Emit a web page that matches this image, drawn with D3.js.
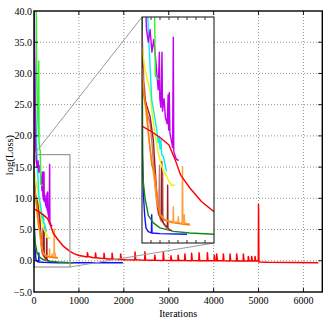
<!DOCTYPE html>
<html>
<head>
<meta charset="utf-8">
<script src="https://cdn.jsdelivr.net/npm/d3@7"></script>
<style>
  body { margin: 0; background: #fff; }
  text { font-family: "Liberation Serif", "Times New Roman", serif; fill: #000; }
</style>
</head>
<body>
<div id="chart"></div>
<script>
// ---- data: [iteration, log(loss)] ----
const xTicks = [0, 1000, 2000, 3000, 4000, 5000, 6000];
const yTicks = [-5, 0, 5, 10, 15, 20, 25, 30, 35, 40];
const insetTicks = [100, 200, 300, 400, 500, 600, 700];

const red = [[0,8.3],[100,7.9],[200,7.4],[300,6.8],[370,5.6],[430,4.4],[530,3.4],[660,2.3],[800,1.5],[900,1.1],[1000,0.85],[1100,0.72],
  [1185,0.62],[1190,1.3],[1205,0.7],[1300,0.52],[1365,0.47],[1370,1.25],[1385,0.5],[1480,0.4],
  [1555,0.36],[1560,1.2],[1575,0.38],[1660,0.3],[1735,0.27],[1740,1.2],[1755,0.3],[1850,0.22],
  [1925,0.2],[1930,1.1],[1945,0.22],[2050,0.16],[2245,0.13],[2250,1.4],[2265,0.15],[2380,0.11],
  [2465,0.1],[2470,1.45],[2485,0.12],[2600,0.08],[2685,0.08],[2690,0.9],[2705,0.09],
  [2875,0.06],[2880,1.45],[2895,0.08],[3045,0.05],[3050,0.8],[3065,0.06],
  [3205,0.04],[3210,0.9],[3225,0.05],[3355,0.03],[3360,1.1],[3375,0.04],
  [3505,0.02],[3510,1.2],[3525,0.03],[3670,0.01],[3675,1.3],[3690,0.02],
  [3855,0],[3860,1.3],[3875,0.01],[4010,0],[4016,0.9],[4030,0],[4064,0],[4069,1.1],[4085,0],
  [4210,0],[4216,1.1],[4230,0],[4360,-0.02],[4365,1.1],[4380,-0.01],
  [4509,-0.03],[4514,1.1],[4530,-0.02],[4657,-0.03],[4662,1.1],[4677,-0.03],
  [4768,-0.04],[4773,0.7],[4788,-0.04],[4843,-0.04],[4848,0.7],[4863,-0.04],
  [4917,-0.05],[4922,0.7],[4937,-0.05],[4995,-0.05],[5000,9.0],[5008,-0.2],[5200,-0.25],[6330,-0.3]];

const blue = [[0,12],[5,6],[10,4.5],[14,3.9],[16,2.8],[30,1.2],[44,0.2],[70,-0.1],[105,-0.2],[108,1.25],[111,-0.2],
  [200,-0.25],[500,-0.3],[1980,-0.3]];

const darkGreen = [[0,30],[4,12],[7,6],[10,5],[14,3.9],[33,2.6],[70,1.2],[126,0.6],[200,0.2],[350,-0.07],
  [530,-0.2],[800,-0.3],[880,-0.3]];

const lime = [[0,42],[30,42],[50,41],[60,30],[70,26],[80,24],[90,22],[100,20],[105,32],[112,19],
  [125,18],[140,17.5],[148,12.3],[190,12]];

const cyan = [[0,35],[60,18],[70,16],[90,13],[108,10.4],[130,9.5],[160,8.2],[181,7.0],[190,7.5],[200,6.5],
  [210,7.2],[220,6.0],[237,5.9],[255,5.3],[270,4.8],[275,4.7]];

const yellow = [[0,14.6],[30,13],[60,12],[89,11.2],[110,9.5],[144,7.7],[180,6.2],[219,5.1],[250,4.6],
  [274,4.3],[300,3.9],[330,3.6],[367,3.6]];

const purple = [[0,42],[20,30],[35,19],[50,16],[70,15],[90,16],[110,14.2],[130,15.2],[150,13.8],[165,12.5],
  [180,11.2],[193,14.2],[198,10.5],[210,9.8],[222,14.2],[228,9.5],[245,10.5],[260,9.0],[280,8.5],[290,10.8],
  [296,8.0],[303,11.0],[310,7.8],[325,7.2],[340,6.6],[348,15.4],[353,6.3],[365,6.0],[380,5.7],[395,5.6],[410,5.6]];

const orange = [[0,12],[15,11],[30,10.3],[52,9.6],[70,8],[90,6.5],[108,5.2],[130,4.8],[145,4.4],[163,3.1],
  [181,2.0],[200,1.2],[230,0.95],[255,0.8],[300,0.68],[348,0.6],[450,0.5],[533,0.43]];

const lightOrange = [[0,13],[20,11],[50,9],[80,7],[110,5.5],[140,3.8],[170,2.2],[200,1.3],[250,0.9],[300,0.75],
  [345,0.7],[348,1.9],[352,0.7],[400,0.65],[404,1.1],[408,0.62],[445,0.6],[450,5.1],[455,0.6],[466,0.58],
  [470,1.25],[474,0.57],[500,0.55],[533,0.5]];

const brown = [[0,14],[10,12],[33,10.4],[89,9.1],[126,7.2],[144,5.1],[163,3.0],[181,1.6],[200,1.1],[215,0.9],
  [219,5.5],[223,0.85],[237,0.6],[260,0.4],[282,0.25],[285,3.6],[288,0.2],[311,0.04],[330,0.0]];

const rosy = [[0,16],[20,12],[50,9.5],[90,8.5],[110,7],[125,5.5],[140,4.0],[155,2.8],[170,1.8],[185,1.2],
  [195,5.2],[200,1.0],[215,0.7],[230,4.6],[235,0.6],[250,0.4],[270,0.2],[290,0.05]];

// drawing order, bottom to top
const series = [
  {data: blue, color: "#1010ff"},
  {data: darkGreen, color: "#108a10"},
  {data: rosy, color: "#c47878"},
  {data: brown, color: "#9a1e1e"},
  {data: lightOrange, color: "#ffa040"},
  {data: orange, color: "#ff7a00"},
  {data: yellow, color: "#f0f000"},
  {data: cyan, color: "#00f0f0"},
  {data: purple, color: "#c000f0"},
  {data: lime, color: "#30f030"},
  {data: red, color: "#ff0000"}
];

const width = 327, height = 327;
const plot = {left: 34, top: 11, right: 322.3, bottom: 292};
const box = {left: 142, top: 17, right: 214, bottom: 243};

const svg = d3.select("#chart").append("svg")
  .attr("width", width).attr("height", height);

const x = d3.scaleLinear().domain([0, 6420]).range([plot.left, plot.right]);
const y = d3.scaleLinear().domain([-5, 40]).range([plot.bottom, plot.top]);

const ix = d3.scaleLinear().domain([0, 800]).range([box.left, box.right]);
const iy = d3.scaleLinear().domain([-1, 17]).range([box.bottom, box.top]);

const defs = svg.append("defs");
defs.append("clipPath").attr("id", "clipMain").append("rect")
  .attr("x", plot.left).attr("y", plot.top)
  .attr("width", plot.right - plot.left).attr("height", plot.bottom - plot.top);
defs.append("clipPath").attr("id", "clipInset").append("rect")
  .attr("x", box.left).attr("y", box.top)
  .attr("width", box.right - box.left).attr("height", box.bottom - box.top);

// grid
const grid = svg.append("g");
grid.selectAll(".gx").data(xTicks.slice(1)).enter().append("line")
  .attr("x1", d => x(d)).attr("x2", d => x(d))
  .attr("y1", plot.top).attr("y2", plot.bottom);
grid.selectAll(".gy").data(yTicks.slice(1, -1)).enter().append("line")
  .attr("x1", plot.left).attr("x2", plot.right)
  .attr("y1", d => y(d)).attr("y2", d => y(d));
grid.selectAll("line")
  .attr("stroke", "#888").attr("stroke-width", 0.9).attr("stroke-dasharray", "1,2");

// main curves
const mainLine = d3.line().x(d => x(d[0])).y(d => y(d[1]));
const main = svg.append("g").attr("clip-path", "url(#clipMain)");
main.selectAll("path").data(series).enter().append("path")
  .attr("d", d => mainLine(d.data))
  .attr("fill", "none").attr("stroke", d => d.color)
  .attr("stroke-width", 1.5).attr("stroke-linejoin", "round");

// zoom rectangle and connectors
const zoomRect = [0, 800, -1, 17];
svg.append("rect")
  .attr("x", x(zoomRect[0])).attr("y", y(zoomRect[3]))
  .attr("width", x(zoomRect[1]) - x(zoomRect[0]))
  .attr("height", y(zoomRect[2]) - y(zoomRect[3]))
  .attr("fill", "none").attr("stroke", "#999").attr("stroke-width", 1.2);
svg.append("line")
  .attr("x1", x(zoomRect[0])).attr("y1", y(zoomRect[3]))
  .attr("x2", box.left).attr("y2", box.top)
  .attr("stroke", "#999").attr("stroke-width", 1);
svg.append("line")
  .attr("x1", x(zoomRect[1])).attr("y1", y(zoomRect[2]))
  .attr("x2", box.right).attr("y2", box.bottom)
  .attr("stroke", "#999").attr("stroke-width", 1);

// inset
const inset = svg.append("g");
inset.append("rect")
  .attr("x", box.left).attr("y", box.top)
  .attr("width", box.right - box.left).attr("height", box.bottom - box.top)
  .attr("fill", "#fff");
const insetLine = d3.line().x(d => ix(d[0])).y(d => iy(d[1]));
inset.append("g").attr("clip-path", "url(#clipInset)")
  .selectAll("path").data(series).enter().append("path")
  .attr("d", d => insetLine(d.data.filter(p => p[0] <= 900)))
  .attr("fill", "none").attr("stroke", d => d.color)
  .attr("stroke-width", 1.4).attr("stroke-linejoin", "round");
inset.selectAll(".itop").data(insetTicks).enter().append("line")
  .attr("x1", d => ix(d)).attr("x2", d => ix(d))
  .attr("y1", box.top).attr("y2", box.top + 3)
  .attr("stroke", "#000").attr("stroke-width", 0.8);
inset.selectAll(".ibot").data(insetTicks).enter().append("line")
  .attr("x1", d => ix(d)).attr("x2", d => ix(d))
  .attr("y1", box.bottom).attr("y2", box.bottom - 3)
  .attr("stroke", "#000").attr("stroke-width", 0.8);
inset.append("rect")
  .attr("x", box.left).attr("y", box.top)
  .attr("width", box.right - box.left).attr("height", box.bottom - box.top)
  .attr("fill", "none").attr("stroke", "#222").attr("stroke-width", 1.1);

// main frame with inward ticks
const frame = svg.append("g").attr("stroke", "#000").attr("stroke-width", 0.9);
frame.selectAll(".tb").data(xTicks.slice(1)).enter().append("line")
  .attr("x1", d => x(d)).attr("x2", d => x(d))
  .attr("y1", plot.bottom).attr("y2", plot.bottom - 4);
frame.selectAll(".tt").data(xTicks.slice(1)).enter().append("line")
  .attr("x1", d => x(d)).attr("x2", d => x(d))
  .attr("y1", plot.top).attr("y2", plot.top + 4);
frame.selectAll(".tl").data(yTicks.slice(1, -1)).enter().append("line")
  .attr("x1", plot.left).attr("x2", plot.left + 4)
  .attr("y1", d => y(d)).attr("y2", d => y(d));
frame.selectAll(".tr").data(yTicks.slice(1, -1)).enter().append("line")
  .attr("x1", plot.right).attr("x2", plot.right - 4)
  .attr("y1", d => y(d)).attr("y2", d => y(d));
svg.append("rect")
  .attr("x", plot.left).attr("y", plot.top)
  .attr("width", plot.right - plot.left).attr("height", plot.bottom - plot.top)
  .attr("fill", "none").attr("stroke", "#000").attr("stroke-width", 1.4);

// tick labels
svg.selectAll(".xl").data(xTicks).enter().append("text")
  .attr("x", d => x(d)).attr("y", 304)
  .attr("text-anchor", "middle").attr("font-size", 10)
  .text(d => d);
svg.selectAll(".yl").data(yTicks).enter().append("text")
  .attr("x", 32).attr("y", d => y(d) + 3.5)
  .attr("text-anchor", "end").attr("font-size", 10)
  .text(d => d3.format(".1f")(d));

svg.append("text")
  .attr("x", (plot.left + plot.right) / 2).attr("y", 317)
  .attr("text-anchor", "middle").attr("font-size", 10)
  .text("Iterations");
svg.append("text")
  .attr("transform", "translate(12.5,155) rotate(-90)")
  .attr("text-anchor", "middle").attr("font-size", 10.5)
  .text("log(Loss)");
</script>
</body>
</html>
